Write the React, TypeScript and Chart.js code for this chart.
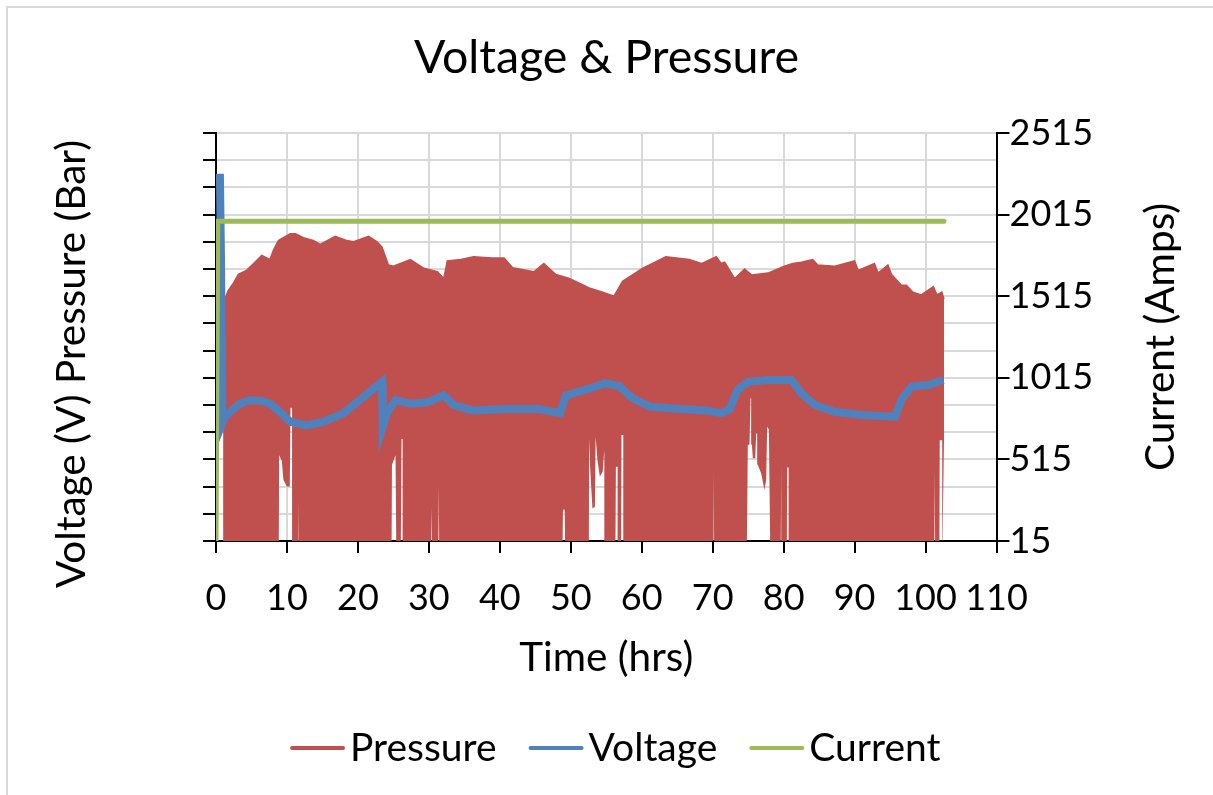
import React, { useEffect, useRef } from 'react';
import { Chart, registerables } from 'chart.js';

Chart.register(...registerables);

// ---- Data (time in hours; left axis unlabeled; current on right axis in Amps) ----
const timeTicks = [0, 10, 20, 30, 40, 50, 60, 70, 80, 90, 100, 110];
const leftTicks = [0, 2, 4, 6, 8, 10, 12, 14, 16, 18, 20, 22, 24, 26, 28, 30];
const currentTicks = [15, 515, 1015, 1515, 2015, 2515];
const legendLabels = ['Pressure', 'Voltage', 'Current'];

const pressureTopHrs = [1.0, 1.2, 1.7, 2.45, 3.15, 4.3, 5.3, 6.45, 7.6, 8.1, 8.8, 10.45, 11.2, 12.3, 13.7, 14.7, 16.8, 18.4, 19.4, 21.5, 22.7, 23.4, 24.3, 25.0, 26.45, 27.4, 29.3, 31.2, 32.1, 32.6, 34.5, 36.3, 38.9, 40.6, 41.8, 44.8, 46.2, 47.9, 49.8, 52.6, 54.5, 56.1, 57.3, 60.1, 63.4, 66.7, 68.4, 70.5, 71.2, 71.7, 73.1, 74.5, 75.5, 77.8, 80.1, 81.3, 82.5, 84.1, 84.8, 87.2, 90.0, 90.5, 92.8, 93.3, 94.7, 95.2, 96.6, 97.3, 98.2, 99.4, 101.1, 101.6, 102.3, 102.6];
const pressureTopVals = [16.2, 17.7, 18.4, 18.95, 19.6, 19.9, 20.4, 21.0, 20.7, 21.4, 22.1, 22.6, 22.6, 22.3, 22.1, 21.8, 22.4, 22.1, 22.0, 22.4, 22.0, 21.6, 20.3, 20.2, 20.5, 20.7, 20.05, 19.8, 19.3, 20.6, 20.7, 20.9, 20.8, 20.8, 20.1, 19.8, 20.4, 19.6, 19.3, 18.6, 18.3, 18.0, 19.1, 20.05, 20.9, 20.7, 20.4, 20.9, 20.4, 20.5, 19.3, 20.0, 19.56, 19.7, 20.2, 20.4, 20.5, 20.7, 20.3, 20.2, 20.6, 19.9, 20.4, 19.7, 20.3, 19.6, 18.8, 18.8, 18.3, 18.1, 18.7, 18.1, 18.3, 17.8];

const pressureLowHrs = [1.0, 8.85, 8.9, 9.27, 9.5, 9.98, 10.4, 10.5, 10.72, 10.78, 11.55, 11.6, 11.65, 24.75, 24.8, 25.3, 25.4, 26.05, 26.15, 26.3, 26.35, 28.9, 28.95, 29.0, 30.05, 30.1, 30.15, 30.35, 30.4, 30.45, 31.35, 31.4, 31.45, 32.45, 32.5, 32.55, 48.85, 48.9, 49.15, 49.2, 52.55, 52.58, 52.72, 53.05, 53.4, 53.5, 53.76, 54.1, 54.5, 54.73, 54.8, 56.3, 56.36, 56.6, 56.65, 57.1, 57.15, 57.4, 57.45, 70.1, 70.15, 70.2, 74.82, 74.86, 74.95, 75.19, 75.33, 75.42, 75.52, 75.66, 76.0, 76.13, 76.27, 76.36, 76.84, 77.3, 77.54, 77.68, 77.92, 78.1, 79.6, 79.66, 79.72, 80.45, 80.5, 80.7, 80.75, 81.75, 81.8, 81.85, 101.25, 101.3, 101.35, 101.95, 102.0, 102.35, 102.4, 102.6];
const pressureLowVals = [0, 0, 6.3, 5.9, 4.5, 4.0, 4.0, 9.8, 9.8, 0, 0, 3.0, 0, 0, 5.6, 6.3, 0, 0, 7.5, 7.5, 0, 0, 2.8, 0, 0, 8.5, 0, 0, 2.5, 0, 0, 4.1, 0, 0, 4.5, 0, 0, 2.3, 2.3, 0, 0, 7.55, 5.46, 2.4, 2.5, 7.67, 5.96, 4.73, 5.1, 6.7, 0, 0, 5.46, 5.46, 0, 0, 7.8, 7.8, 0, 0, 5.0, 0, 0, 1.7, 7.06, 7.1, 10.5, 10.5, 7.1, 6.08, 6.08, 7.9, 7.9, 5.6, 4.97, 3.75, 4.5, 8.4, 8.2, 0, 0, 5.8, 0, 0, 5.4, 5.4, 0, 0, 4.0, 0, 0, 5.2, 0, 0, 7.4, 7.4, 0, 7.4];

const voltageHrs = [0.55, 0.7, 0.9, 1.2, 2.2, 3.4, 4.8, 6.5, 7.6, 9.0, 10.45, 12.8, 15.2, 18.0, 20.3, 22.2, 23.4, 23.5, 24.1, 25.3, 27.4, 29.8, 32.1, 33.5, 36.1, 40.8, 45.5, 48.5, 49.3, 52.6, 54.9, 56.8, 58.7, 61.1, 64.4, 69.1, 71.2, 72.4, 73.5, 75.0, 77.8, 81.1, 82.5, 84.4, 87.2, 91.0, 95.7, 96.6, 98.0, 100.4, 102.5];
const voltageVals = [27.0, 21.0, 8.7, 9.1, 9.6, 10.1, 10.37, 10.3, 10.1, 9.5, 8.77, 8.5, 8.77, 9.4, 10.37, 11.2, 11.7, 8.4, 9.4, 10.37, 10.1, 10.2, 10.7, 10.0, 9.6, 9.7, 9.7, 9.4, 10.7, 11.2, 11.6, 11.4, 10.5, 9.88, 9.75, 9.6, 9.4, 9.7, 11.1, 11.7, 11.84, 11.84, 10.86, 10.0, 9.5, 9.26, 9.14, 10.37, 11.35, 11.47, 11.84];

const currentHrs = [0, 0.25, 102.6];
const currentVals = [15, 1975, 1975];

const toPoints = (xs: number[], ys: number[]) => xs.map((x, i) => ({ x, y: ys[i] }));

const FONT = 'Lato';
const RED = '#c0504d';
const BLUE = '#4f81bd';
const GREEN = '#9bbb59';
const GRID = '#d9d9d9';
const TICK_SIZE = 36;
const AXIS_TITLE_SIZE = 40.5;
const LEGEND_SIZE = 39;

const axisTitlesPlugin = {
  id: 'axisTitles',
  afterDraw(chart: any) {
    const { ctx, chartArea } = chart;
    ctx.save();
    ctx.fillStyle = '#000';
    ctx.font = `${AXIS_TITLE_SIZE}px ${FONT}`;
    ctx.textAlign = 'center';
    ctx.textBaseline = 'middle';
    ctx.fillText('Time (hrs)', (chartArea.left + chartArea.right) / 2, chartArea.bottom + 117);
    ctx.save();
    ctx.translate(chartArea.left - 144.5, chartArea.top + 231);
    ctx.rotate(-Math.PI / 2);
    ctx.fillText('Voltage (V) Pressure (Bar)', 0, 0);
    ctx.restore();
    ctx.save();
    ctx.translate(chartArea.right + 164.5, (chartArea.top + chartArea.bottom) / 2);
    ctx.rotate(-Math.PI / 2);
    ctx.fillText('Current (Amps)', 0, 0);
    ctx.restore();
    ctx.restore();
  },
};

// Legend drawn below the axis title: line sample, short gap, label
const lineLegendPlugin = {
  id: 'lineLegend',
  afterDraw(chart: any) {
    const { ctx, chartArea } = chart;
    const items = chart.data.datasets
      .filter((d: any) => legendLabels.includes(d.label))
      .map((d: any) => ({ text: d.label, color: d.borderColor }));
    const sample = 55;
    const gap = 5;
    const spacing = 32;
    ctx.save();
    ctx.font = `${LEGEND_SIZE}px ${FONT}`;
    const widths = items.map((it: any) => sample + gap + ctx.measureText(it.text).width);
    const total = widths.reduce((a: number, b: number) => a + b, 0) + spacing * (items.length - 1);
    const cx = (chartArea.left + chartArea.right) / 2 + 9;
    const y = chartArea.bottom + 207;
    let x = cx - total / 2;
    items.forEach((it: any, i: number) => {
      ctx.strokeStyle = it.color;
      ctx.lineWidth = 4;
      ctx.lineCap = 'round';
      ctx.beginPath();
      ctx.moveTo(x + 2, y);
      ctx.lineTo(x + sample - 2, y);
      ctx.stroke();
      ctx.fillStyle = '#000';
      ctx.textAlign = 'left';
      ctx.textBaseline = 'middle';
      ctx.fillText(it.text, x + sample + gap, y);
      x += widths[i] + spacing;
    });
    ctx.restore();
  },
};

export default function App() {
  const ref = useRef<HTMLCanvasElement | null>(null);

  useEffect(() => {
    if (!ref.current) return;
    const chart = new Chart(ref.current, {
      type: 'line',
      data: {
        datasets: [
          {
            label: 'Pressure',
            data: toPoints(pressureTopHrs, pressureTopVals),
            yAxisID: 'y',
            borderColor: RED,
            backgroundColor: RED,
            borderWidth: 1.5,
            pointRadius: 0,
            fill: 1,
            order: 4,
          },
          {
            label: 'PressureLow',
            data: toPoints(pressureLowHrs, pressureLowVals),
            yAxisID: 'y',
            borderColor: 'rgba(0,0,0,0)',
            backgroundColor: 'rgba(0,0,0,0)',
            borderWidth: 0,
            pointRadius: 0,
            fill: false,
            order: 5,
          },
          {
            label: 'Voltage',
            data: toPoints(voltageHrs, voltageVals),
            yAxisID: 'y',
            borderColor: BLUE,
            backgroundColor: BLUE,
            borderWidth: 8,
            pointRadius: 0,
            fill: false,
            order: 2,
          },
          {
            label: 'Current',
            data: toPoints(currentHrs, currentVals),
            yAxisID: 'y1',
            borderColor: GREEN,
            backgroundColor: GREEN,
            borderWidth: 5,
            borderCapStyle: 'round',
            pointRadius: 0,
            fill: false,
            order: 1,
          },
        ],
      },
      options: {
        responsive: true,
        maintainAspectRatio: false,
        animation: false,
        layout: { padding: { left: 0, right: 0, top: 0, bottom: 0 } },
        plugins: {
          title: {
            display: true,
            text: 'Voltage & Pressure',
            color: '#000',
            font: { family: FONT, size: 46.5, weight: 'normal' },
            padding: { top: 30, bottom: 47.2 },
          },
          legend: { display: false },
          tooltip: { enabled: false },
        },
        scales: {
          x: {
            type: 'linear',
            position: 'bottom',
            min: 0,
            max: 110,
            afterBuildTicks: (s: any) => {
              s.ticks = timeTicks.map((v) => ({ value: v }));
            },
            afterFit: (s: any) => {
              s.height = s.chart.height - 541;
            },
            ticks: {
              color: '#000',
              font: { family: FONT, size: TICK_SIZE },
              padding: 24,
              maxRotation: 0,
              autoSkip: false,
              callback: (v: any) => String(v),
            },
            grid: { color: GRID, lineWidth: 2, tickColor: '#000', tickLength: 12, drawTicks: true },
            border: { display: true, color: '#000', width: 2 },
          },
          y: {
            type: 'linear',
            position: 'left',
            min: 0,
            max: 30,
            afterBuildTicks: (s: any) => {
              s.ticks = leftTicks.map((v) => ({ value: v }));
            },
            afterFit: (s: any) => {
              s.width = 216;
            },
            ticks: { display: false },
            grid: { color: GRID, lineWidth: 2, tickColor: '#000', tickLength: 13, drawTicks: true },
            border: { display: true, color: '#000', width: 2 },
          },
          y1: {
            type: 'linear',
            position: 'right',
            min: 15,
            max: 2515,
            afterBuildTicks: (s: any) => {
              s.ticks = currentTicks.map((v) => ({ value: v }));
            },
            afterFit: (s: any) => {
              s.width = 216.5;
            },
            ticks: {
              color: '#000',
              font: { family: FONT, size: TICK_SIZE },
              padding: 0,
              autoSkip: false,
              callback: (v: any) => String(v),
            },
            grid: { drawOnChartArea: false, tickColor: '#000', tickLength: 13, lineWidth: 2, drawTicks: true },
            border: { display: true, color: '#000', width: 2 },
          },
        },
      },
      plugins: [axisTitlesPlugin, lineLegendPlugin],
    });
    return () => chart.destroy();
  }, []);

  return (
    <div style={{ position: 'absolute', left: 0, top: 0, width: 1213, height: 795, background: '#fff' }}>
      <div
        style={{
          position: 'absolute',
          left: 6,
          top: 6,
          width: 1207,
          height: 789,
          borderLeft: '2px solid #d9d9d9',
          borderTop: '2px solid #d9d9d9',
          boxSizing: 'border-box',
          pointerEvents: 'none',
        }}
      />
      <canvas ref={ref} style={{ position: 'absolute', left: 0, top: 0 }} />
    </div>
  );
}
